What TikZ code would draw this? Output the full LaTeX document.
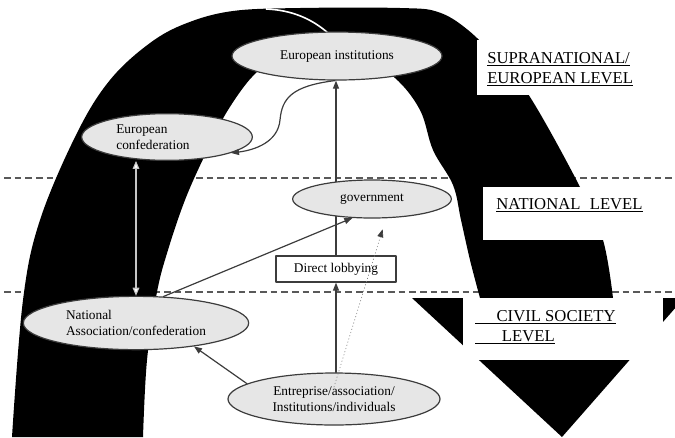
\documentclass[tikz,border=0pt]{standalone}
\usepackage{fontspec}
\setmainfont{Liberation Serif}
\usetikzlibrary{arrows.meta,shapes.geometric}

\pgfdeclarelayer{back}
\pgfdeclarelayer{links}
\pgfsetlayers{back,links,main}

\definecolor{inkgray}{HTML}{3C3C3C}
\definecolor{cellgray}{HTML}{E6E6E6}

\begin{document}
\begin{tikzpicture}[x=0.75pt, y=-0.75pt, line cap=round, line join=round]
  % ---- Styles ----
  \tikzset{
    unit/.style={ellipse, draw=inkgray, fill=cellgray, line width=0.9pt, inner sep=0pt, font=\fontsize{10}{12}\selectfont},
    lobbybox/.style={rectangle, draw=inkgray, fill=white, line width=0.9pt, minimum width=90pt, minimum height=19.5pt, inner sep=0pt, font=\fontsize{10}{12}\selectfont},
    link/.style={-{Triangle[length=6pt,width=4.5pt]}, draw=inkgray, line width=0.9pt},
    hint/.style={-{Triangle[length=6pt,width=4.5pt,color=inkgray]}, draw=gray, line width=0.5pt, dotted},
    twoway/.style={{Triangle[length=6pt,width=5pt,fill=white]}-{Triangle[length=6pt,width=5pt,fill=white]}, draw=gray!45, line width=0.8pt},
    divider/.style={draw=gray!70!black, line width=0.9pt, dash pattern=on 5pt off 3pt},
    level/.style={anchor=north west, inner sep=0pt, align=left, font=\fontsize{12.5}{15}\selectfont},
  }

  \clip (0,0) rectangle (675,437);

  % ---- Background: level dividers, arch arrow, label boxes ----
  \begin{pgfonlayer}{back}
    \foreach \yy in {178,292} {
      \draw[divider] (4,\yy) -- (675,\yy);
    }

    % arch (outer edge, arrow head, inner edge)
    \fill[black] plot[smooth, tension=0.6] coordinates {(12,437) (23,300) (40,220) (77,133) (110,80) (150,43) (187,23) (233,11) (300,8) (400,8) (438,12) (468,30) (500,62) (530,97) (580,187) (603,240) (613,298)}
      -- (684,298) -- (562,437) -- (412,298)
      -- plot[smooth, tension=0.6] coordinates {(480,298) (470,260) (461,220) (453,185) (433,150) (420,110) (395,78) (360,57) (320,54) (285,60) (257,72) (228,110) (205,155) (185,200) (168,250) (157,292) (147,360) (143,437)}
      -- cycle;
    \draw[white, line width=1.2pt] (266,9) .. controls (292,10) and (312,19) .. (328,33);

    % white boxes for the level names
    \fill[white] (477,40) rectangle (680,95);
    \fill[white] (483,187) rectangle (680,240);
    \fill[white] (463,298) rectangle (663,360);
  \end{pgfonlayer}

  % ---- Level names ----
  \node[level] (supra) at (487,52) {\underline{SUPRANATIONAL/}\\\underline{EUROPEAN LEVEL}};
  \node[level] (natl) at (496,198) {\underline{NATIONAL\hspace{7pt}LEVEL}};
  \node[level] (civil) at (475,310) {\underline{\hspace{16pt}CIVIL SOCIETY}\\\underline{\hspace{20pt}LEVEL}};

  % ---- Actors ----
  \node[unit, minimum width=157.5pt, minimum height=36pt] (euinst) at (337,56) {European institutions};
  \node[unit, minimum width=128pt, minimum height=35pt, text width=76pt, align=left] (euconf) at (167,137) {European\\confederation};
  \node[unit, minimum width=119pt, minimum height=28.5pt] (govt) at (372,199) {government};
  \node[lobbybox] (lobby) at (336,269) {Direct lobbying};
  \node[unit, minimum width=169pt, minimum height=40pt, align=left] (natassoc) at (136,323) {National\\Association/confederation};
  \node[unit, minimum width=159pt, minimum height=39pt, align=center] (firms) at (334,399) {Entreprise/association/\\Institutions/individuals};

  % ---- Connectors ----
  \begin{pgfonlayer}{links}
    \draw[link] (lobby.north) -- (lobby.north |- euinst.south);
  \end{pgfonlayer}
  \draw[link] (lobby.south |- firms.north) -- (lobby.south);
  \draw[link] (natassoc.44) -- (govt.224);
  \draw[link] (firms.170) -- (natassoc.338);
  \draw[hint] ([yshift=9pt]firms.center) -- ([xshift=8pt,yshift=-8pt]govt.south);
  \draw[link] (euinst.265) .. controls (292,86) and (282,98) .. (280,120)
    .. controls (278,142) and (255,150) .. (euconf.346);
  \draw[twoway] (euconf.south -| natassoc.north) -- (natassoc.north);

\end{tikzpicture}
\end{document}
